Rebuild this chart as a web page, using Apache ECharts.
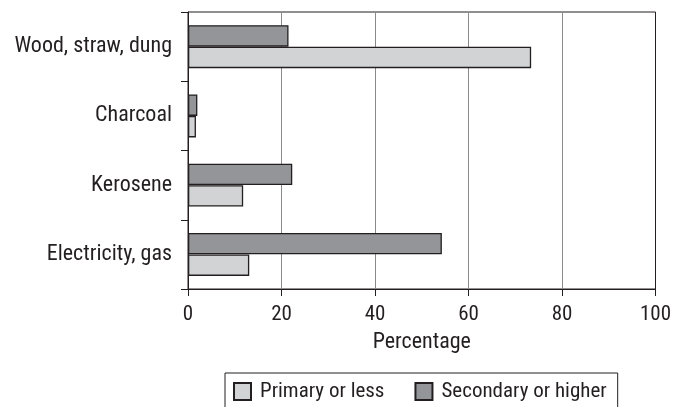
<!DOCTYPE html>
<html><head><meta charset="utf-8">
<script src="https://cdn.jsdelivr.net/npm/echarts@6/dist/echarts.min.js"></script>
<style>html,body{margin:0;padding:0;background:#fff}#c{width:682px;height:407px}</style>
</head><body><div id="c"></div>
<script>
const categories = ['Wood, straw, dung', 'Charcoal', 'Kerosene', 'Electricity, gas'];
const primaryOrLess = [73.4, 1.7, 11.8, 13.1];
const secondaryOrHigher = [21.5, 2.0, 22.3, 54.3];
const seriesNames = ['Primary or less', 'Secondary or higher'];
const axisName = 'Percentage';

const FONT = '"Liberation Sans Narrow", "Roboto Condensed", Roboto, sans-serif';
const INK = '#231f20';
const chart = echarts.init(document.getElementById('c'), null, {renderer: 'canvas'});
chart.setOption({
  animation: false,
  backgroundColor: '#fff',
  textStyle: {fontFamily: FONT, color: INK},
  grid: {left: 188, top: 12, width: 467.5, height: 277, show: true, borderColor: INK, borderWidth: 1, backgroundColor: 'transparent'},
  xAxis: {
    type: 'value', min: 0, max: 100, interval: 20,
    name: axisName, nameLocation: 'middle', nameGap: 42,
    nameTextStyle: {fontFamily: FONT, fontSize: 22, color: INK},
    axisLine: {show: true, lineStyle: {color: INK, width: 1}},
    axisTick: {show: true, length: 7, lineStyle: {color: INK}},
    axisLabel: {fontFamily: FONT, fontSize: 21, color: INK, margin: 15},
    splitLine: {show: true, showMinLine: false, showMaxLine: false, lineStyle: {color: '#8a8a8a', width: 1}}
  },
  yAxis: {
    type: 'category', data: categories, inverse: true,
    axisLine: {show: true, lineStyle: {color: INK, width: 1}},
    axisTick: {show: true, length: 7, lineStyle: {color: INK}},
    axisLabel: {fontFamily: FONT, fontSize: 22, color: INK, margin: 16},
    splitLine: {show: false}
  },
  legend: {
    data: seriesNames, left: 225, top: 373, orient: 'horizontal',
    padding: [8, 11, 8, 8], borderColor: INK, borderWidth: 1,
    itemWidth: 17, itemHeight: 17, itemGap: 30, icon: 'rect',
    textStyle: {fontFamily: FONT, fontSize: 21, color: INK, padding: [0, 0, 0, 4]}
  },
  series: [
    {name: seriesNames[1], type: 'bar', data: secondaryOrHigher, barWidth: 21.5, barGap: '0%',
     itemStyle: {color: '#939598', borderColor: INK, borderWidth: 1.3}},
    {name: seriesNames[0], type: 'bar', data: primaryOrLess, barWidth: 21.5, barGap: '0%',
     itemStyle: {color: '#d1d3d4', borderColor: INK, borderWidth: 1.3}}
  ]
});
</script></body></html>
